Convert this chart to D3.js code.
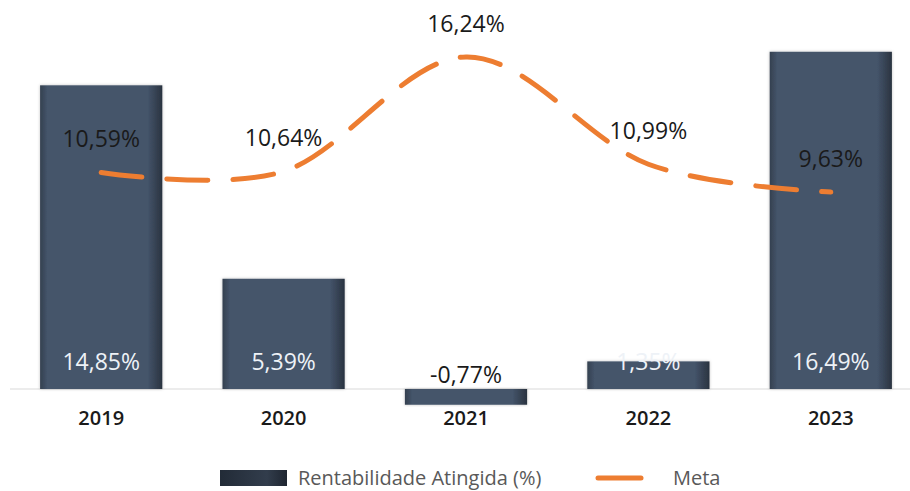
<!DOCTYPE html>
<html>
<head>
<meta charset="utf-8">
<script src="https://cdn.jsdelivr.net/npm/d3@7"></script>
<style>
  body { margin: 0; background: #fff; }
  svg { display: block; font-family: "Open Sans", sans-serif; }
</style>
</head>
<body>
<svg width="910" height="491"></svg>
<script>
// data
var years = ['2019', '2020', '2021', '2022', '2023'];
var rentabilidade = [14.85, 5.39, -0.77, 1.35, 16.49];
var meta = [10.59, 10.64, 16.24, 10.99, 9.63];
var seriesNames = ['Rentabilidade Atingida (%)', 'Meta'];

// options
var width = 910, height = 491;
var zeroY = 389, pxPerUnit = 20.45;
var fmt = function(v){ return d3.format('.2f')(v).replace('.', ',').replace('\u2212', '-') + '%'; };

var svg = d3.select('svg');

// scales
var xScale = d3.scaleBand()
    .domain(years)
    .range([10, 922])
    .paddingInner(0.33)
    .paddingOuter(0.165);
var yScale = d3.scaleLinear()
    .domain([0, 18])
    .range([zeroY, zeroY - 18 * pxPerUnit]);

// gradient for bars (darker edges)
var defs = svg.append('defs');
var grad = defs.append('linearGradient').attr('id', 'barGrad')
    .attr('x1', '0%').attr('x2', '100%').attr('y1', '0%').attr('y2', '0%');
grad.append('stop').attr('offset', '0%').attr('stop-color', '#34404f');
grad.append('stop').attr('offset', '6%').attr('stop-color', '#44546a');
grad.append('stop').attr('offset', '88%').attr('stop-color', '#44546a');
grad.append('stop').attr('offset', '100%').attr('stop-color', '#2a3340');
var lgrad = defs.append('linearGradient').attr('id', 'legGrad')
    .attr('x1', '0%').attr('x2', '100%');
lgrad.append('stop').attr('offset', '0%').attr('stop-color', '#222b37');
lgrad.append('stop').attr('offset', '70%').attr('stop-color', '#323d4c');
lgrad.append('stop').attr('offset', '100%').attr('stop-color', '#1e2530');
var shadow = defs.append('filter').attr('id', 'shadow')
    .attr('x', '-10%').attr('y', '-10%').attr('width', '120%').attr('height', '120%');
shadow.append('feDropShadow').attr('dx', 0).attr('dy', 0)
    .attr('stdDeviation', 1.5).attr('flood-color', '#000').attr('flood-opacity', 0.25);

// axis line
svg.append('line')
    .attr('x1', 10).attr('x2', width)
    .attr('y1', yScale(0)).attr('y2', yScale(0))
    .attr('stroke', '#d9d9d9').attr('stroke-width', 1);

// bars
svg.selectAll('rect.bar')
    .data(rentabilidade)
    .enter().append('rect')
    .attr('class', 'bar')
    .attr('x', function(d, i){ return xScale(years[i]); })
    .attr('y', function(d){ return yScale(Math.max(0, d)); })
    .attr('width', xScale.bandwidth())
    .attr('height', function(d){ return Math.abs(yScale(d) - yScale(0)); })
    .attr('fill', 'url(#barGrad)')
    .attr('filter', 'url(#shadow)');

// bar labels
svg.selectAll('text.barlab')
    .data(rentabilidade)
    .enter().append('text')
    .attr('class', 'barlab')
    .attr('x', function(d, i){ return xScale(years[i]) + xScale.bandwidth() / 2; })
    .attr('y', function(d){ return d < 0 ? yScale(0) - 6 : yScale(0) - 19; })
    .attr('text-anchor', 'middle')
    .attr('font-size', 23)
    .attr('fill', function(d){ return d < 0 ? '#1a1a1a' : '#eef2f7'; })
    .text(fmt);

// meta line
var line = d3.line()
    .x(function(d, i){ return xScale(years[i]) + xScale.bandwidth() / 2; })
    .y(function(d){ return yScale(d); })
    .curve(d3.curveCardinal.tension(0));
svg.append('path')
    .datum(meta)
    .attr('d', line)
    .attr('fill', 'none')
    .attr('stroke', '#ed7d31')
    .attr('stroke-width', 5)
    .attr('stroke-linecap', 'round')
    .attr('stroke-dasharray', '41,25');

// meta labels
svg.selectAll('text.metalab')
    .data(meta)
    .enter().append('text')
    .attr('class', 'metalab')
    .attr('x', function(d, i){ return xScale(years[i]) + xScale.bandwidth() / 2; })
    .attr('y', function(d){ return yScale(d) - 25; })
    .attr('text-anchor', 'middle')
    .attr('font-size', 23)
    .attr('fill', '#1a1a1a')
    .text(fmt);

// x axis labels
var xAxis = d3.axisBottom(xScale).tickSize(0).tickPadding(22);
var gx = svg.append('g')
    .attr('transform', 'translate(0,' + yScale(0) + ')')
    .call(xAxis);
gx.select('.domain').remove();
gx.selectAll('text')
    .attr('font-family', '"Open Sans", sans-serif')
    .attr('font-size', 20)
    .attr('font-weight', 600)
    .attr('fill', '#1a1a1a');

// legend
var leg = svg.append('g');
leg.append('rect')
    .attr('x', 220).attr('y', 470).attr('width', 67).attr('height', 16)
    .attr('fill', 'url(#legGrad)');
leg.append('text')
    .attr('x', 298).attr('y', 485)
    .attr('font-size', 20).attr('fill', '#595959')
    .text(seriesNames[0]);
leg.append('line')
    .attr('x1', 598).attr('x2', 641).attr('y1', 478).attr('y2', 478)
    .attr('stroke', '#ed7d31').attr('stroke-width', 5).attr('stroke-linecap', 'round');
leg.append('text')
    .attr('x', 673).attr('y', 485)
    .attr('font-size', 20).attr('fill', '#595959')
    .text(seriesNames[1]);
</script>
</body>
</html>
